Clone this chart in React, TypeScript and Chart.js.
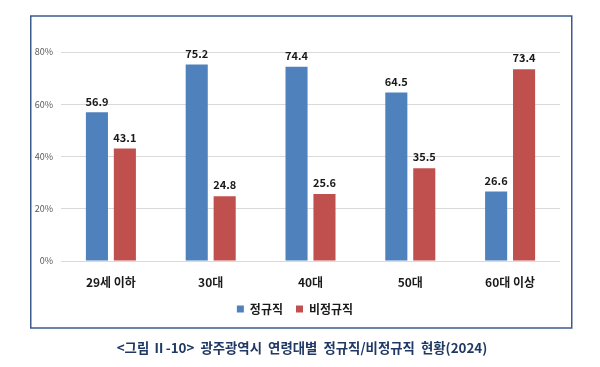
import React, { useEffect, useRef } from "react";
import { Chart, registerables } from "chart.js";

Chart.register(...registerables);

const categories = ["29세 이하", "30대", "40대", "50대", "60대 이상"];
const regularValues = [56.9, 75.2, 74.4, 64.5, 26.6];
const irregularValues = [43.1, 24.8, 25.6, 35.5, 73.4];
const seriesNames = ["정규직", "비정규직"];
const yTicks = [0, 20, 40, 60, 80];
const caption = "<그림 Ⅱ-10>  광주광역시  연령대별  정규직/비정규직  현황(2024)";

const FONT = '"Noto Sans CJK KR", "Noto Sans", sans-serif';

const frameAndCaption = {
  id: "frameAndCaption",
  afterDraw(chart: any) {
    const ctx = chart.ctx;
    ctx.save();
    ctx.strokeStyle = "#3c5a8c";
    ctx.lineWidth = 1.5;
    ctx.strokeRect(30.75, 16, 541, 312);
    ctx.fillStyle = "#1f3864";
    ctx.font = `bold 13.4px ${FONT}`;
    ctx.textAlign = "center";
    ctx.textBaseline = "middle";
    ctx.fillText(caption, 302, 348);
    ctx.restore();
  },
};

const valueLabels = {
  id: "valueLabels",
  afterDatasetsDraw(chart: any) {
    const ctx = chart.ctx;
    ctx.save();
    ctx.fillStyle = "#1a1a1a";
    ctx.font = `bold 11px ${FONT}`;
    ctx.textAlign = "center";
    ctx.textBaseline = "middle";
    chart.data.datasets.forEach((ds: any, i: number) => {
      const meta = chart.getDatasetMeta(i);
      meta.data.forEach((bar: any, j: number) => {
        ctx.fillText(Number(ds.data[j]).toFixed(1), bar.x, bar.y - 11);
      });
    });
    ctx.restore();
  },
};

export default function App() {
  const ref = useRef<HTMLCanvasElement | null>(null);
  useEffect(() => {
    if (!ref.current) return;
    const chart = new Chart(ref.current, {
      type: "bar",
      data: {
        labels: categories,
        datasets: [
          {
            label: seriesNames[0],
            data: regularValues,
            backgroundColor: "#4f81bd",
            categoryPercentage: 0.56,
            barPercentage: 0.79,
          },
          {
            label: seriesNames[1],
            data: irregularValues,
            backgroundColor: "#c0504d",
            categoryPercentage: 0.56,
            barPercentage: 0.79,
          },
        ],
      },
      options: {
        responsive: false,
        animation: false,
        layout: { padding: { left: 30, right: 40, top: 52, bottom: 42 } },
        plugins: {
          legend: {
            position: "bottom",
            labels: {
              boxWidth: 7,
              boxHeight: 7,
              padding: 13,
              color: "#1a1a1a",
              font: { family: FONT, size: 12, weight: "bold" },
            },
          },
          tooltip: { enabled: false },
          title: { display: false },
        },
        scales: {
          x: {
            afterFit(scale: any) {
              scale.height = 29;
            },
            grid: { display: false, drawTicks: false },
            border: { display: false },
            ticks: {
              padding: 14,
              color: "#1a1a1a",
              font: { family: FONT, size: 12, weight: "bold" },
            },
          },
          y: {
            min: 0,
            max: 80,
            afterFit(scale: any) {
              scale.width = 31;
            },
            afterBuildTicks(scale: any) {
              scale.ticks = yTicks.map((v) => ({ value: v }));
            },
            grid: { color: "#d9d9d9", drawTicks: false },
            border: { display: false },
            ticks: {
              padding: 8,
              color: "#595959",
              font: { family: FONT, size: 9 },
              callback: (v: any) => `${v}%`,
            },
          },
        },
      },
      plugins: [valueLabels, frameAndCaption],
    });
    return () => chart.destroy();
  }, []);
  return (
    <div style={{ position: "absolute", left: 0, top: 0, width: 600, height: 367, background: "#fff" }}>
      <canvas ref={ref} width={600} height={367} style={{ display: "block" }} />
    </div>
  );
}
